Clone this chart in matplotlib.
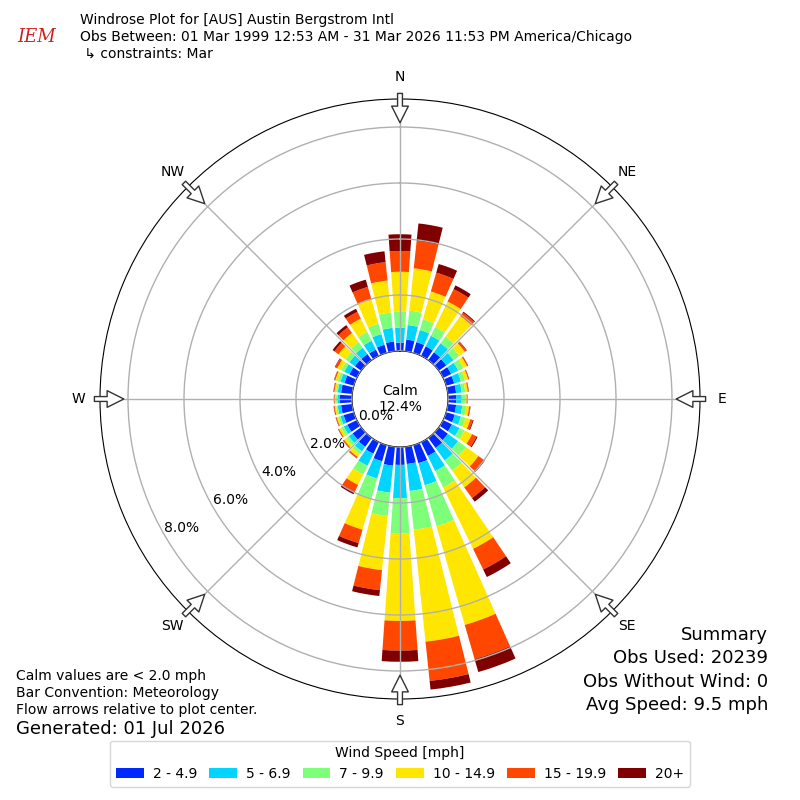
import numpy as np
import matplotlib
matplotlib.use("Agg")
import matplotlib.pyplot as plt

# ---------------- data ----------------
directions = list(range(0, 360, 10))
speed_labels = ["2 - 4.9", "5 - 6.9", "7 - 9.9", "10 - 14.9", "15 - 19.9", "20+"]
# cumulative percentages per direction (blue, cyan, green, yellow, orange, darkred)
cum_blue = [0.30, 0.42, 0.40, 0.38, 0.35, 0.33, 0.32, 0.30, 0.30, 0.29, 0.30, 0.32,
            0.35, 0.40, 0.45, 0.55, 0.67, 0.62, 0.64, 0.68, 0.60, 0.46, 0.40, 0.38,
            0.38, 0.38, 0.40, 0.43, 0.40, 0.35, 0.30, 0.28, 0.27, 0.25, 0.30, 0.35]
cum_cyan = [0.83, 0.94, 0.85, 0.80, 0.75, 0.65, 0.60, 0.55, 0.50, 0.49, 0.52, 0.55,
            0.65, 0.85, 1.00, 1.15, 1.49, 1.59, 1.83, 1.65, 1.24, 0.94, 0.60, 0.55,
            0.52, 0.50, 0.52, 0.52, 0.52, 0.50, 0.50, 0.52, 0.55, 0.60, 0.70, 0.84]
cum_green = [1.40, 1.46, 1.25, 1.15, 1.05, 0.90, 0.80, 0.70, 0.63, 0.61, 0.66, 0.72,
             0.85, 1.20, 1.45, 1.80, 3.01, 2.98, 3.08, 2.49, 2.00, 1.28, 0.72, 0.66,
             0.62, 0.58, 0.58, 0.57, 0.58, 0.60, 0.62, 0.70, 0.80, 0.95, 1.08, 1.39]
cum_yellow = [2.83, 2.98, 2.28, 2.16, 1.95, 1.15, 0.95, 0.82, 0.72, 0.67, 0.77, 0.90,
              1.15, 1.75, 2.19, 4.24, 6.68, 7.00, 6.21, 4.43, 3.14, 1.70, 0.85, 0.76,
              0.71, 0.64, 0.63, 0.62, 0.64, 0.69, 0.78, 1.00, 1.20, 1.48, 2.00, 2.54]
cum_orange = [3.57, 3.96, 2.98, 2.65, 2.10, 1.22, 0.99, 0.85, 0.75, 0.69, 0.81, 0.99,
              1.33, 1.97, 2.66, 5.06, 7.95, 8.41, 7.27, 5.15, 3.64, 1.97, 0.90, 0.80,
              0.74, 0.67, 0.66, 0.64, 0.67, 0.73, 0.86, 1.18, 1.45, 1.75, 2.45, 3.20]
cum_darkred = [4.17, 4.59, 3.30, 2.80, 2.14, 1.24, 1.00, 0.86, 0.76, 0.70, 0.82, 1.02,
               1.37, 2.03, 2.82, 5.36, 8.43, 8.72, 7.67, 5.36, 3.80, 2.07, 0.91, 0.81,
               0.75, 0.68, 0.67, 0.65, 0.68, 0.74, 0.88, 1.26, 1.55, 1.87, 2.72, 3.59]
calm_pct = 12.4
rings = [0, 2, 4, 6, 8]
compass_angles = [0, 45, 90, 135, 180, 225, 270, 315]
compass_labels = ["N", "NE", "E", "SE", "S", "SW", "W", "NW"]

# ---------------- plot ----------------
colors = plt.get_cmap("jet")(np.linspace(0, 1, 7))[1:]

fig = plt.figure(figsize=(8, 8), dpi=100)
ax = fig.add_axes([0.125, 0.12625, 0.75, 0.75], projection="polar")
ax.set_theta_zero_location("N")
ax.set_theta_direction(-1)
ax.set_rorigin(-1.714)
ax.set_rlim(0, 9.0)

theta = np.deg2rad(directions)
width = np.deg2rad(10) * 0.8
cums = [cum_blue, cum_cyan, cum_green, cum_yellow, cum_orange, cum_darkred]
prev = np.zeros(len(directions))
handles = []
for k, cum in enumerate(cums):
    cum = np.array(cum)
    h = ax.bar(theta, cum - prev, width=width, bottom=prev, color=colors[k],
               edgecolor="none", label=speed_labels[k], zorder=1)
    handles.append(h)
    prev = cum

ax.set_axisbelow(False)
ax.grid(True, color="#b0b0b0", lw=1)
ax.set_thetagrids(compass_angles, compass_labels)
ax.tick_params(axis="x", pad=5, labelsize=10)
ax.set_rgrids(rings, labels=[""] * len(rings))
for r in rings:
    ax.text(np.deg2rad(240), r, f"{r:.1f}%", ha="left", va="bottom", fontsize=10, zorder=5)

for ang in compass_angles:
    ax.annotate("", xy=(np.deg2rad(ang), 8.15), xytext=(np.deg2rad(ang), 9.2),
                arrowprops=dict(arrowstyle="simple,head_length=1.2,head_width=1.2,tail_width=0.35",
                                fc="white", ec="#333333", lw=1, shrinkA=0, shrinkB=0),
                annotation_clip=False, zorder=6)

fig.text(0.5, 1 - 399 / 800, f"Calm\n{calm_pct:.1f}%", ha="center", va="center", fontsize=10)

# header
fig.text(80 / 800, 1 - 20 / 800, "Windrose Plot for [AUS] Austin Bergstrom Intl", fontsize=10, va="center")
fig.text(80 / 800, 1 - 37 / 800, "Obs Between: 01 Mar 1999 12:53 AM - 31 Mar 2026 11:53 PM America/Chicago",
         fontsize=10, va="center")
fig.text(80 / 800, 1 - 54 / 800, " \u21b3 constraints: Mar", fontsize=10, va="center")
fig.text(37 / 800, 1 - 37 / 800, "IEM", fontsize=13, color="#cc2222", style="italic",
         family="DejaVu Serif", ha="center", va="center")

# footer left
fig.text(16 / 800, 1 - 676 / 800, "Calm values are < 2.0 mph", fontsize=10, va="center")
fig.text(16 / 800, 1 - 693 / 800, "Bar Convention: Meteorology", fontsize=10, va="center")
fig.text(16 / 800, 1 - 710 / 800, "Flow arrows relative to plot center.", fontsize=10, va="center")
fig.text(16 / 800, 1 - 729 / 800, "Generated: 01 Jul 2026", fontsize=13, va="center")

# summary right
for y, s in [(635, "Summary"), (658, "Obs Used: 20239"), (682, "Obs Without Wind: 0"),
             (705, "Avg Speed: 9.5 mph")]:
    fig.text(768 / 800, 1 - y / 800, s, fontsize=13, ha="right", va="center")

fig.legend(handles=handles, labels=speed_labels, loc="lower center", bbox_to_anchor=(0.5, 0.008),
           ncol=6, title="Wind Speed [mph]", fontsize=10, title_fontsize=10,
           handlelength=2.0, handleheight=0.72, handletextpad=0.65, columnspacing=0.87)

fig.savefig("out.png", dpi=100, facecolor="white")
